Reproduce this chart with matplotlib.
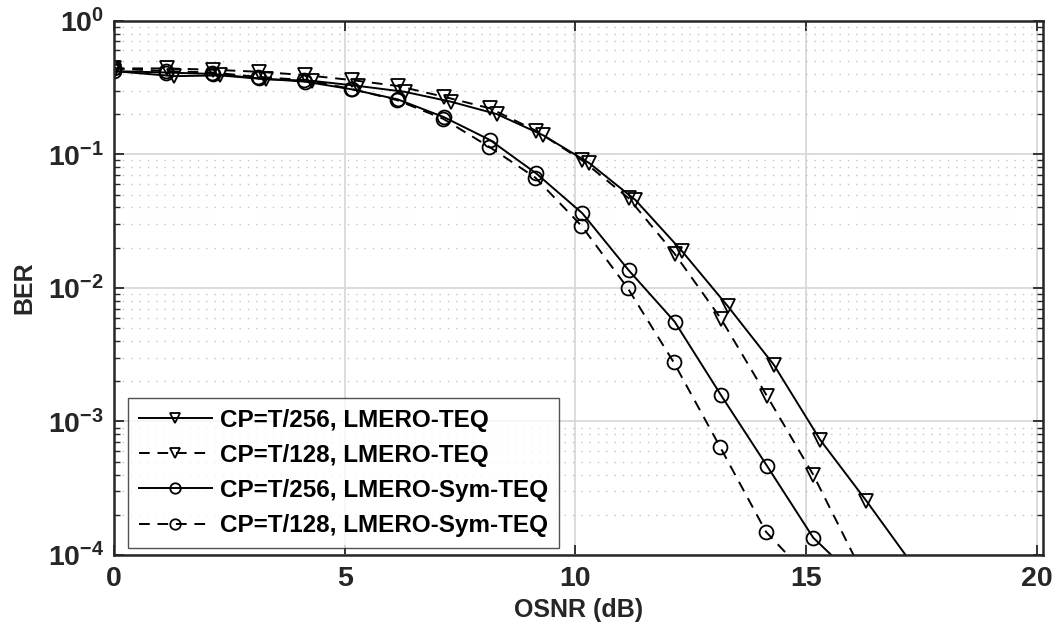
import numpy as np
import matplotlib
matplotlib.use("Agg")
import matplotlib.pyplot as plt
from matplotlib.ticker import FixedLocator, FuncFormatter, LogLocator, NullFormatter

plt.rcParams['font.family'] = ['Liberation Sans', 'DejaVu Sans']
plt.rcParams['font.weight'] = 'bold'
plt.rcParams['mathtext.fontset'] = 'custom'
plt.rcParams['mathtext.rm'] = 'Liberation Sans:bold'
plt.rcParams['mathtext.bf'] = 'Liberation Sans:bold'
plt.rcParams['mathtext.it'] = 'Liberation Sans:bold'

labels = ["CP=T/256, LMERO-TEQ", "CP=T/128, LMERO-TEQ",
          "CP=T/256, LMERO-Sym-TEQ", "CP=T/128, LMERO-Sym-TEQ"]

x_t256 = [0, 1.3, 2.3, 3.3, 4.3, 5.3, 6.3, 7.3, 8.3, 9.3, 10.3, 11.3, 12.3, 13.3, 14.3, 15.3, 16.3, 17.3]
ber_t256 = [0.42, 0.385, 0.39, 0.365, 0.355, 0.325, 0.294, 0.248, 0.20, 0.139, 0.086, 0.0455,
            0.019, 0.0073, 0.00265, 0.00073, 0.000255, 0.000085]

x_t128 = [0, 1.15, 2.15, 3.15, 4.15, 5.15, 6.15, 7.15, 8.15, 9.15, 10.15, 11.15, 12.15, 13.15, 14.15, 15.15, 16.15]
ber_t128 = [0.44, 0.44, 0.43, 0.415, 0.392, 0.36, 0.325, 0.27, 0.221, 0.150, 0.090, 0.047,
            0.018, 0.0059, 0.00155, 0.00040, 0.000082]

x_s256 = [0, 1.13, 2.15, 3.15, 4.15, 5.15, 6.15, 7.15, 8.15, 9.15, 10.15, 11.15, 12.15, 13.15, 14.15, 15.15, 16.15]
ber_s256 = [0.42, 0.41, 0.40, 0.37, 0.35, 0.307, 0.258, 0.19, 0.128, 0.072, 0.0362, 0.0136,
            0.00558, 0.00158, 0.000465, 0.000135, 0.000063]

x_s128 = [0, 1.13, 2.13, 3.13, 4.13, 5.13, 6.13, 7.13, 8.13, 9.13, 10.13, 11.13, 12.13, 13.13, 14.13, 15.13]
ber_s128 = [0.44, 0.42, 0.41, 0.38, 0.36, 0.31, 0.255, 0.185, 0.114, 0.067, 0.0292, 0.0100,
            0.00277, 0.000648, 0.000149, 0.000064]

series = [
    (x_t256, ber_t256, '-', 'v'),
    (x_t128, ber_t128, '--', 'v'),
    (x_s256, ber_s256, '-', 'o'),
    (x_s128, ber_s128, '--', 'o'),
]

fig = plt.figure(figsize=(10.54, 6.30), dpi=100)
ax = fig.add_axes([0.108, 0.119, 0.8816, 0.848])

for (xs, ys, ls, mk), lab in zip(series, labels):
    line, = ax.semilogy(xs, ys, linestyle=ls, marker=mk, color='black', lw=1.4,
                        markersize=10, markerfacecolor='none', markeredgewidth=1.3, label=lab)
    if ls == '--':
        line.set_dashes((5.5, 4))

ax.set_xlim(0, 20.13)
ax.set_ylim(1e-4, 1)
ax.set_xticks([0, 5, 10, 15, 20])
ax.yaxis.set_major_locator(FixedLocator([1e-4, 1e-3, 1e-2, 1e-1, 1]))
ax.yaxis.set_major_formatter(FuncFormatter(lambda v, p: r'$\mathbf{10^{%d}}$' % int(round(np.log10(v)))))
ax.yaxis.set_minor_locator(LogLocator(base=10, subs=np.arange(2, 10), numticks=20))
ax.yaxis.set_minor_formatter(NullFormatter())

ax.grid(True, which='major', color='#d9d9d9', lw=1.3, ls='-')
ax.grid(True, which='minor', axis='y', color='#c4c4c4', lw=1.0, ls=(0, (1, 5)))
ax.set_axisbelow(True)

ax.tick_params(which='both', direction='in', top=True, right=True, colors='#262626',
               labelsize=20.5)
ax.tick_params(axis='x', which='major', pad=8)
ax.tick_params(axis='y', which='major', pad=7)
ax.tick_params(which='major', length=7, width=1.3)
ax.tick_params(which='minor', length=4, width=1.0)
for sp in ax.spines.values():
    sp.set_color('#262626')
    sp.set_linewidth(1.8)

ax.set_xlabel('OSNR (dB)', fontsize=18, fontweight='bold', color='#262626', labelpad=4)
ax.set_ylabel('BER', fontsize=18, fontweight='bold', color='#262626', labelpad=8)

leg = ax.legend(loc='lower left', bbox_to_anchor=(0.015, 0.013), borderaxespad=0,
                fontsize=17.5, markerscale=0.75, frameon=True, fancybox=False,
                edgecolor='#262626', handlelength=3.0, borderpad=0.45,
                labelspacing=0.5, handletextpad=0.35)
leg.get_frame().set_linewidth(1.0)
for t in leg.get_texts():
    t.set_fontweight('bold')

fig.savefig('out.png', dpi=100)
